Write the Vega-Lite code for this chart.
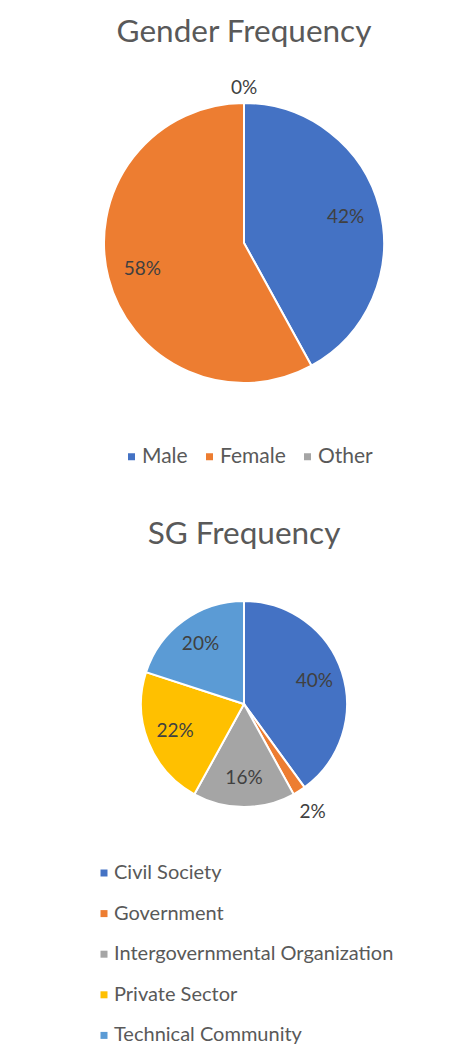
{
  "$schema": "https://vega.github.io/schema/vega-lite/v6.json",
  "background": "white",
  "padding": {"left": 44, "top": 16, "right": 0, "bottom": 0},
  "config": {
    "view": {"stroke": null},
    "font": "Lato",
    "concat": {"spacing": 51},
    "legend": {
      "labelFont": "Lato",
      "labelFontSize": 21,
      "labelColor": "#595959",
      "labelLimit": 400,
      "symbolType": "square",
      "symbolSize": 49,
      "symbolStrokeWidth": 0,
      "labelOffset": 0
    }
  },
  "resolve": {"scale": {"color": "independent"}, "legend": {"color": "independent"}},
  "vconcat": [
    {
      "title": {"text": "Gender Frequency", "fontSize": 31.5, "fontWeight": "normal", "color": "#595959", "font": "Lato", "frame": "group", "baseline": "alphabetic", "offset": 6},
      "width": 400,
      "height": 300,
      "data": {"values": [
        {"gender": "Male", "pct": 42, "label": "42%", "k": 1},
        {"gender": "Female", "pct": 58, "label": "58%", "k": 2},
        {"gender": "Other", "pct": 0, "label": "0%", "k": 3}
      ]},
      "encoding": {
        "theta": {"field": "pct", "type": "quantitative", "stack": true},
        "order": {"field": "k", "type": "quantitative"}
      },
      "layer": [
        {
          "mark": {"type": "arc", "radius": 140, "stroke": "white", "strokeWidth": 2},
          "encoding": {
            "color": {"field": "gender", "type": "nominal",
              "scale": {"domain": ["Male", "Female", "Other"], "range": ["#4472C4", "#ED7D31", "#A5A5A5"]},
              "legend": {"orient": "none", "legendX": 77, "legendY": 353, "direction": "horizontal", "title": null, "columnPadding": 11}}
          }
        },
        {
          "mark": {"type": "text", "radius": 105, "fontSize": 19, "color": "#404040", "font": "Lato"},
          "encoding": {"text": {"condition": {"test": "datum.pct < 5", "value": ""}, "field": "label"}}
        },
        {
          "mark": {"type": "text", "radius": 155, "fontSize": 19, "color": "#404040", "font": "Lato"},
          "encoding": {"text": {"condition": {"test": "datum.pct >= 5", "value": ""}, "field": "label"}}
        }
      ]
    },
    {
      "title": {"text": "SG Frequency", "fontSize": 31.5, "fontWeight": "normal", "color": "#595959", "font": "Lato", "frame": "group", "baseline": "alphabetic", "offset": 16},
      "width": 400,
      "height": 210,
      "data": {"values": [
        {"sg": "Civil Society", "pct": 40, "label": "40%", "k": 1},
        {"sg": "Government", "pct": 2, "label": "2%", "k": 2},
        {"sg": "Intergovernmental Organization", "pct": 16, "label": "16%", "k": 3},
        {"sg": "Private Sector", "pct": 22, "label": "22%", "k": 4},
        {"sg": "Technical Community", "pct": 20, "label": "20%", "k": 5}
      ]},
      "encoding": {
        "theta": {"field": "pct", "type": "quantitative", "stack": true},
        "order": {"field": "k", "type": "quantitative"}
      },
      "layer": [
        {
          "mark": {"type": "arc", "radius": 103, "stroke": "white", "strokeWidth": 2},
          "encoding": {
            "color": {"field": "sg", "type": "nominal",
              "scale": {"domain": ["Civil Society", "Government", "Intergovernmental Organization", "Private Sector", "Technical Community"], "range": ["#4472C4", "#ED7D31", "#A5A5A5", "#FFC000", "#5B9BD5"]},
              "legend": {"orient": "none", "legendX": 50, "legendY": 264, "direction": "vertical", "title": null, "rowPadding": 20.6, "labelFontSize": 20}}
          }
        },
        {
          "mark": {"type": "text", "radius": 74, "fontSize": 19, "color": "#404040", "font": "Lato"},
          "encoding": {"text": {"condition": {"test": "datum.pct < 5", "value": ""}, "field": "label"}}
        },
        {
          "mark": {"type": "text", "radius": 128, "fontSize": 19, "color": "#404040", "font": "Lato"},
          "encoding": {"text": {"condition": {"test": "datum.pct >= 5", "value": ""}, "field": "label"}}
        }
      ]
    }
  ]
}
